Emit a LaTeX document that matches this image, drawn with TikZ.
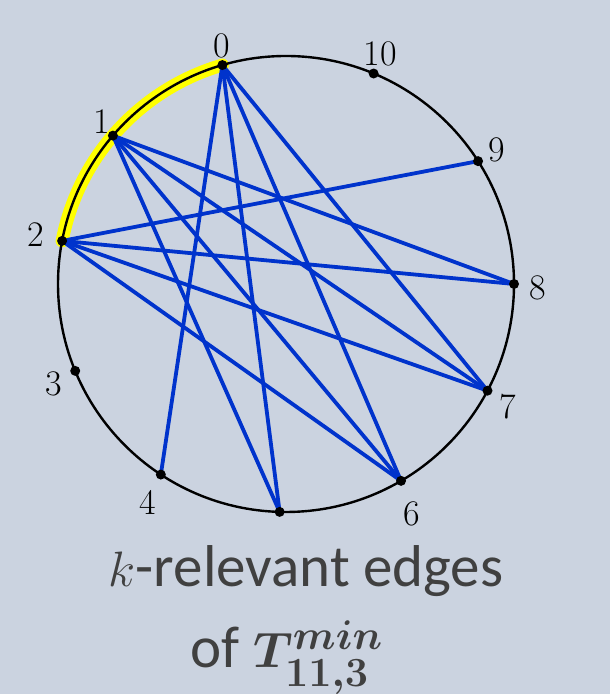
\documentclass[tikz,border=0pt]{standalone}
\usepackage{amsmath,amssymb}
\usepackage{fontspec}
\newfontfamily\capfont{Carlito}
\usepackage{tikz}
\usetikzlibrary{calc}

\definecolor{bgcol}{RGB}{203,211,224}
\definecolor{edgecol}{RGB}{0,51,204}
\definecolor{txtcol}{RGB}{64,64,64}
\definecolor{hicol}{RGB}{255,255,0}

\tikzset{
    edge/.style={draw=edgecol, line width=1.9pt},
    rim/.style={draw=black, line width=1.2pt},
    hilite/.style={draw=hicol, line width=6.5pt, line cap=round},
    vlabel/.style={font=\fontsize{18}{21}\selectfont, inner sep=0pt},
    title/.style={font=\capfont\fontsize{29.5}{34}\selectfont, text=txtcol, anchor=base},
}

\begin{document}
\begin{tikzpicture}[x=0.5pt, y=0.5pt]
    % hintergrund
    \fill[bgcol] (0,0) rectangle (610,694);
    \useasboundingbox (0,0) rectangle (610,694);

    \coordinate (c) at (286,410);

    % ecken auf dem kreis (winkel gemessen)
    \foreach \i/\a in {0/106.2, 1/139.4, 2/169.1, 3/202.4, 4/236.7, 5/268.4,
                       6/300.3, 7/332.1, 8/0, 9/32.6, 10/67.4} {
        \coordinate (v\i) at ($(c)+(\a:114pt)$);
    }

    % markierter bogen 0 -- 2
    \draw[hilite] (v0) arc[start angle=106.2, end angle=169.1, radius=114pt];

    % kreis
    \draw[rim] (c) circle[radius=114pt];

    % kanten
    \foreach \a/\b in {0/4, 0/5, 0/6, 0/7, 1/5, 1/6, 1/7, 1/8, 2/6, 2/7, 2/8, 2/9} {
        \draw[edge] (v\a) -- (v\b);
    }

    % punkte
    \foreach \i in {0,...,10} {
        \fill (v\i) circle[radius=2.5pt];
    }

    % beschriftung
    \foreach \i/\a/\r in {0/105/247, 1/138.6/246, 2/168.9/255, 3/203.3/253, 4/237.7/258,
                          6/298.8/262, 7/331/253, 8/-1/252, 9/32.5/250, 10/67.8/249} {
        \node[vlabel] (l\i) at ($(c)+(\a:\r)$) {\i};
    }

    % titel
    \node[title] (t1) at (306,107) {$k$-relevant edges};
    \node[title] (t2) at (287,26) {of $\boldsymbol{T^{min}_{11,3}}$};
\end{tikzpicture}
\end{document}
